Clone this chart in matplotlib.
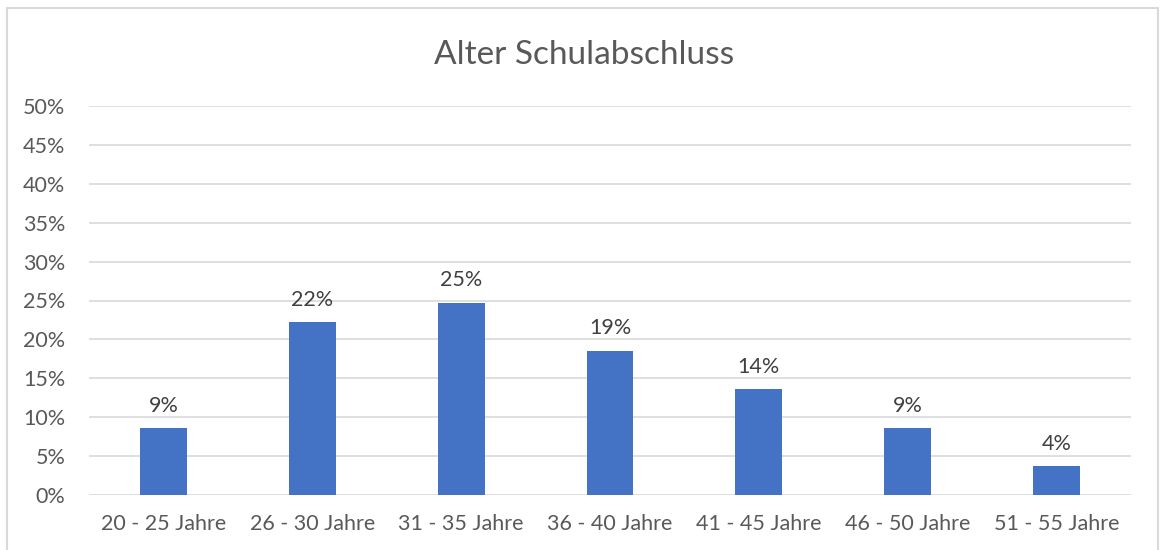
import matplotlib
matplotlib.use("Agg")
import matplotlib.pyplot as plt
from matplotlib.patches import Rectangle
from matplotlib.ticker import FuncFormatter

# Data
categories = ["20 - 25 Jahre", "26 - 30 Jahre", "31 - 35 Jahre", "36 - 40 Jahre",
              "41 - 45 Jahre", "46 - 50 Jahre", "51 - 55 Jahre"]
values = [0.086, 0.222, 0.247, 0.1852, 0.136, 0.086, 0.037]
labels = ["9%", "22%", "25%", "19%", "14%", "9%", "4%"]
yticks = [0, 0.05, 0.10, 0.15, 0.20, 0.25, 0.30, 0.35, 0.40, 0.45, 0.50]

plt.rcParams["font.family"] = ["Lato", "DejaVu Sans"]
textcol = "#595959"
gridcol = "#D9D9D9"

fig = plt.figure(figsize=(11.61, 5.5), dpi=100)
ax = fig.add_axes([89 / 1161, 1 - 495 / 550, (1131 - 89) / 1161, (495 - 106) / 550])

x = list(range(len(categories)))
bars = ax.bar(x, values, width=0.315, color="#4472C4", zorder=3)

for b, lab in zip(bars, labels):
    ax.annotate(lab, (b.get_x() + b.get_width() / 2, b.get_height()),
                xytext=(0, 9), textcoords="offset points",
                ha="center", va="bottom", fontsize=15.5, color="#404040")

ax.set_xlim(-0.5, len(categories) - 0.5)
ax.set_ylim(0, 0.5)
ax.set_yticks(yticks)
ax.yaxis.set_major_formatter(FuncFormatter(lambda v, p: f"{v * 100:.0f}%"))
ax.set_xticks(x)
ax.set_xticklabels(categories)
ax.tick_params(axis="both", length=0, labelsize=15.5, labelcolor=textcol)
ax.tick_params(axis="x", pad=14)
ax.tick_params(axis="y", pad=17)

ax.grid(axis="y", color=gridcol, linewidth=1.2, zorder=0)
for s in ax.spines.values():
    s.set_visible(False)

fig.text(584 / 1161, 1 - 55 / 550, "Alter Schulabschluss", ha="center", va="center",
         fontsize=24, color=textcol)

# outer chart frame
fig.patches.append(Rectangle((7 / 1161, -0.05), (1158 - 7) / 1161, 1.05 - 8 / 550,
                             transform=fig.transFigure, fill=False,
                             edgecolor=gridcol, linewidth=1.5))

fig.savefig("out.png", dpi=100)
